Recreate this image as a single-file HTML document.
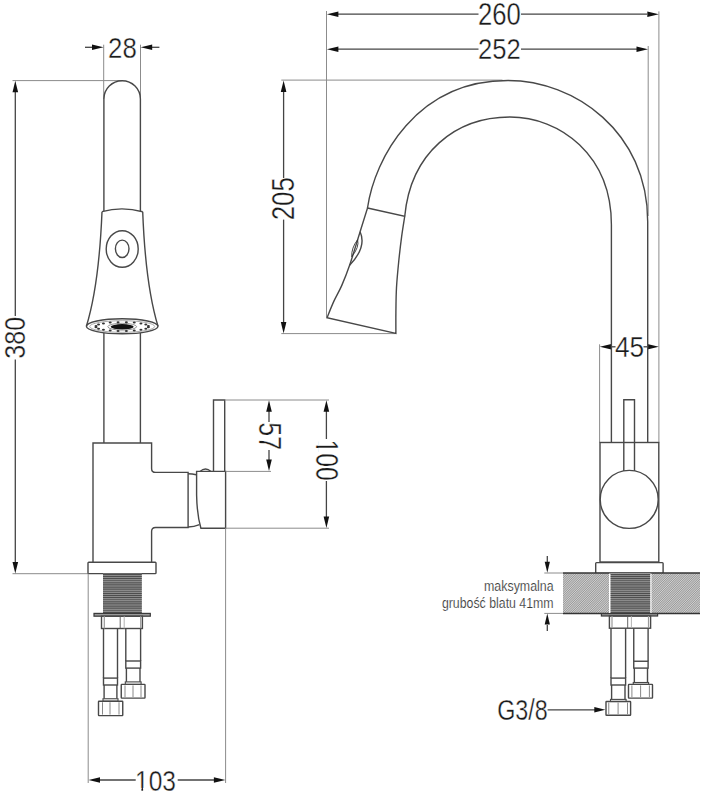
<!DOCTYPE html>
<html><head><meta charset="utf-8"><style>html,body{margin:0;padding:0;background:#fff;}svg{display:block;}</style></head>
<body><svg width="704" height="800" viewBox="0 0 704 800">
<rect width="704" height="800" fill="#fff"/>
<line x1="103.70" y1="44.70" x2="103.70" y2="99.00" stroke="#8c8c8c" stroke-width="1" fill="none"/>
<line x1="140.50" y1="44.70" x2="140.50" y2="99.00" stroke="#8c8c8c" stroke-width="1" fill="none"/>
<line x1="85.00" y1="47.30" x2="95.00" y2="47.30" stroke="#444" stroke-width="1.3" fill="none"/>
<polygon points="103.50,47.30 92.00,50.10 92.00,44.50" fill="#111"/>
<line x1="159.40" y1="47.30" x2="150.00" y2="47.30" stroke="#444" stroke-width="1.3" fill="none"/>
<polygon points="140.70,47.30 152.20,44.50 152.20,50.10" fill="#111"/>
<text x="108.05" y="57.50" font-size="29.20" font-family="Liberation Sans, sans-serif" fill="#1a1a1a" stroke="#fff" stroke-width="0.35" textLength="28.70" lengthAdjust="spacingAndGlyphs">28</text>
<line x1="12.50" y1="80.60" x2="122.00" y2="80.60" stroke="#8c8c8c" stroke-width="1" fill="none"/>
<line x1="12.50" y1="573.70" x2="88.00" y2="573.70" stroke="#8c8c8c" stroke-width="1" fill="none"/>
<line x1="15.30" y1="90.00" x2="15.30" y2="316.00" stroke="#444" stroke-width="1.3" fill="none"/>
<line x1="15.30" y1="359.40" x2="15.30" y2="565.00" stroke="#444" stroke-width="1.3" fill="none"/>
<polygon points="15.30,80.80 18.10,92.30 12.50,92.30" fill="#111"/>
<polygon points="15.30,573.50 12.50,562.00 18.10,562.00" fill="#111"/>
<g transform="translate(14.70,337.80) rotate(-90)"><text x="-20.90" y="10.30" font-size="30.07" font-family="Liberation Sans, sans-serif" fill="#1a1a1a" stroke="#fff" stroke-width="0.35" textLength="41.81" lengthAdjust="spacingAndGlyphs">380</text></g>
<path d="M103.9,211 L103.9,99 A18.25,18.25 0 0 1 140.4,99 L140.4,211" stroke="#484848" stroke-width="1.4" fill="none"/>
<line x1="103.90" y1="333.00" x2="103.90" y2="443.00" stroke="#484848" stroke-width="1.4" fill="none"/>
<line x1="140.40" y1="333.00" x2="140.40" y2="443.00" stroke="#484848" stroke-width="1.4" fill="none"/>
<path d="M102,211.7 Q121.5,206 142.7,211.7" stroke="#484848" stroke-width="1.4" fill="none"/>
<path d="M102,211.7 Q99,285 86.4,326.3" stroke="#484848" stroke-width="1.4" fill="none"/>
<path d="M142.7,211.7 Q145.5,285 158,326.3" stroke="#484848" stroke-width="1.4" fill="none"/>
<ellipse cx="122.2" cy="326.3" rx="35.8" ry="7.5" stroke="#484848" stroke-width="1.4" fill="none"/>
<ellipse cx="122.2" cy="249" rx="16" ry="18.3" stroke="#484848" stroke-width="1.4" fill="none"/>
<ellipse cx="122.2" cy="248.8" rx="6.8" ry="8.7" stroke="#484848" stroke-width="1.4" fill="none"/>
<ellipse cx="122.2" cy="326.8" rx="11.5" ry="2.7" fill="#111"/>
<ellipse cx="122.2" cy="326.7" rx="14.4" ry="3.4" stroke="#777" stroke-width="0.8" fill="none"/>
<ellipse cx="122.2" cy="326.5" rx="32.5" ry="5.8" stroke="#888" stroke-width="0.7" fill="none"/>
<ellipse cx="148.37" cy="327.30" rx="1.5" ry="1.0" fill="#333"/>
<ellipse cx="145.81" cy="328.64" rx="1.5" ry="1.0" fill="#333"/>
<ellipse cx="140.94" cy="329.78" rx="1.5" ry="1.0" fill="#333"/>
<ellipse cx="134.23" cy="330.61" rx="1.5" ry="1.0" fill="#333"/>
<ellipse cx="126.35" cy="331.04" rx="1.5" ry="1.0" fill="#333"/>
<ellipse cx="118.05" cy="331.04" rx="1.5" ry="1.0" fill="#333"/>
<ellipse cx="110.17" cy="330.61" rx="1.5" ry="1.0" fill="#333"/>
<ellipse cx="103.46" cy="329.78" rx="1.5" ry="1.0" fill="#333"/>
<ellipse cx="98.59" cy="328.64" rx="1.5" ry="1.0" fill="#333"/>
<ellipse cx="96.03" cy="327.30" rx="1.5" ry="1.0" fill="#333"/>
<ellipse cx="96.03" cy="325.90" rx="1.5" ry="1.0" fill="#333"/>
<ellipse cx="98.59" cy="324.56" rx="1.5" ry="1.0" fill="#333"/>
<ellipse cx="103.46" cy="323.42" rx="1.5" ry="1.0" fill="#333"/>
<ellipse cx="110.17" cy="322.59" rx="1.5" ry="1.0" fill="#333"/>
<ellipse cx="118.05" cy="322.16" rx="1.5" ry="1.0" fill="#333"/>
<ellipse cx="126.35" cy="322.16" rx="1.5" ry="1.0" fill="#333"/>
<ellipse cx="134.23" cy="322.59" rx="1.5" ry="1.0" fill="#333"/>
<ellipse cx="140.94" cy="323.42" rx="1.5" ry="1.0" fill="#333"/>
<ellipse cx="145.81" cy="324.56" rx="1.5" ry="1.0" fill="#333"/>
<ellipse cx="148.37" cy="325.90" rx="1.5" ry="1.0" fill="#333"/>
<path d="M93,562.3 L93,443 L151.6,443 L151.6,468.4 Q151.6,472.4 155.6,472.4 L188.1,472.4 L188.1,527.5 L155.6,527.5 Q151.6,527.5 151.6,531.5 L151.6,562.3" stroke="#484848" stroke-width="1.4" fill="none"/>
<path d="M188.1,473.8 Q192,473.8 196.4,474.7" stroke="#484848" stroke-width="1.4" fill="none"/>
<path d="M188.1,527 Q194,527 199.5,524.6" stroke="#484848" stroke-width="1.4" fill="none"/>
<path d="M196.6,471.4 L225.6,471.4 L225.6,528.2 L200.9,528.2 Q197,515 196.6,495 L196.6,471.4 Z" stroke="#484848" stroke-width="1.4" fill="none"/>
<path d="M200,471.4 Q205.5,466.5 211,471.4" stroke="#484848" stroke-width="1.4" fill="none"/>
<path d="M213.5,471.4 L213.5,400 L224.7,400 L224.7,471.4" stroke="#484848" stroke-width="1.4" fill="none"/>
<line x1="224.70" y1="400.00" x2="329.00" y2="400.00" stroke="#8c8c8c" stroke-width="1" fill="none"/>
<line x1="225.60" y1="471.40" x2="271.00" y2="471.40" stroke="#8c8c8c" stroke-width="1" fill="none"/>
<line x1="225.60" y1="528.20" x2="329.00" y2="528.20" stroke="#8c8c8c" stroke-width="1" fill="none"/>
<line x1="225.60" y1="528.20" x2="225.60" y2="783.00" stroke="#8c8c8c" stroke-width="1" fill="none"/>
<line x1="269.00" y1="411.00" x2="269.00" y2="422.00" stroke="#444" stroke-width="1.3" fill="none"/>
<line x1="269.00" y1="450.00" x2="269.00" y2="460.00" stroke="#444" stroke-width="1.3" fill="none"/>
<polygon points="269.00,400.30 271.80,411.80 266.20,411.80" fill="#111"/>
<polygon points="269.00,471.10 266.20,459.60 271.80,459.60" fill="#111"/>
<g transform="translate(269.00,436.20) rotate(90)"><text x="-13.84" y="10.50" font-size="30.66" font-family="Liberation Sans, sans-serif" fill="#1a1a1a" stroke="#fff" stroke-width="0.35" textLength="27.68" lengthAdjust="spacingAndGlyphs">57</text></g>
<line x1="326.40" y1="411.00" x2="326.40" y2="439.00" stroke="#444" stroke-width="1.3" fill="none"/>
<line x1="326.40" y1="481.00" x2="326.40" y2="517.00" stroke="#444" stroke-width="1.3" fill="none"/>
<polygon points="326.40,400.30 329.20,411.80 323.60,411.80" fill="#111"/>
<polygon points="326.40,528.00 323.60,516.50 329.20,516.50" fill="#111"/>
<g transform="translate(326.80,460.10) rotate(90)"><text x="-20.63" y="10.75" font-size="31.39" font-family="Liberation Sans, sans-serif" fill="#1a1a1a" stroke="#fff" stroke-width="0.35" textLength="41.27" lengthAdjust="spacingAndGlyphs">100</text></g>
<rect x="314.4" y="440" width="4.4" height="5.7" fill="#fff"/><rect x="314.4" y="448" width="4.4" height="4.5" fill="#fff"/>
<rect x="88" y="562.3" width="68" height="11.3" rx="0.8" stroke="#484848" stroke-width="1.4" fill="none"/>
<line x1="88.20" y1="573.70" x2="88.20" y2="783.00" stroke="#8c8c8c" stroke-width="1" fill="none"/>
<rect x="103" y="573.6" width="38.8" height="39.8" fill="#a0a0a0"/>
<line x1="103.00" y1="574.60" x2="141.80" y2="574.60" stroke="#4e4e4e" stroke-width="1.1"/>
<line x1="103.00" y1="576.50" x2="141.80" y2="576.50" stroke="#4e4e4e" stroke-width="1.1"/>
<line x1="103.00" y1="578.40" x2="141.80" y2="578.40" stroke="#4e4e4e" stroke-width="1.1"/>
<line x1="103.00" y1="580.30" x2="141.80" y2="580.30" stroke="#4e4e4e" stroke-width="1.1"/>
<line x1="103.00" y1="582.20" x2="141.80" y2="582.20" stroke="#4e4e4e" stroke-width="1.1"/>
<line x1="103.00" y1="584.10" x2="141.80" y2="584.10" stroke="#4e4e4e" stroke-width="1.1"/>
<line x1="103.00" y1="586.00" x2="141.80" y2="586.00" stroke="#4e4e4e" stroke-width="1.1"/>
<line x1="103.00" y1="587.90" x2="141.80" y2="587.90" stroke="#4e4e4e" stroke-width="1.1"/>
<line x1="103.00" y1="589.80" x2="141.80" y2="589.80" stroke="#4e4e4e" stroke-width="1.1"/>
<line x1="103.00" y1="591.70" x2="141.80" y2="591.70" stroke="#4e4e4e" stroke-width="1.1"/>
<line x1="103.00" y1="593.60" x2="141.80" y2="593.60" stroke="#4e4e4e" stroke-width="1.1"/>
<line x1="103.00" y1="595.50" x2="141.80" y2="595.50" stroke="#4e4e4e" stroke-width="1.1"/>
<line x1="103.00" y1="597.40" x2="141.80" y2="597.40" stroke="#4e4e4e" stroke-width="1.1"/>
<line x1="103.00" y1="599.30" x2="141.80" y2="599.30" stroke="#4e4e4e" stroke-width="1.1"/>
<line x1="103.00" y1="601.20" x2="141.80" y2="601.20" stroke="#4e4e4e" stroke-width="1.1"/>
<line x1="103.00" y1="603.10" x2="141.80" y2="603.10" stroke="#4e4e4e" stroke-width="1.1"/>
<line x1="103.00" y1="605.00" x2="141.80" y2="605.00" stroke="#4e4e4e" stroke-width="1.1"/>
<line x1="103.00" y1="606.90" x2="141.80" y2="606.90" stroke="#4e4e4e" stroke-width="1.1"/>
<line x1="103.00" y1="608.80" x2="141.80" y2="608.80" stroke="#4e4e4e" stroke-width="1.1"/>
<line x1="103.00" y1="610.70" x2="141.80" y2="610.70" stroke="#4e4e4e" stroke-width="1.1"/>
<line x1="103.00" y1="612.60" x2="141.80" y2="612.60" stroke="#4e4e4e" stroke-width="1.1"/>
<rect x="94" y="613.4" width="56.3" height="2.8" fill="#999" stroke="#3a3a3a" stroke-width="1.2"/>
<rect x="101.5" y="616.2" width="40.9" height="12.3" stroke="#484848" stroke-width="1.4" fill="none"/>
<line x1="104.30" y1="616.20" x2="104.30" y2="628.50" stroke="#999" stroke-width="1.2"/>
<line x1="120.20" y1="616.20" x2="120.20" y2="628.50" stroke="#555" stroke-width="0.9"/>
<line x1="124.20" y1="616.20" x2="124.20" y2="628.50" stroke="#aaa" stroke-width="0.9"/>
<line x1="140.70" y1="616.20" x2="140.70" y2="628.50" stroke="#999" stroke-width="1.2"/>
<line x1="103.50" y1="628.50" x2="103.50" y2="678.10" stroke="#484848" stroke-width="1.4" fill="none"/>
<line x1="117.50" y1="628.50" x2="117.50" y2="678.10" stroke="#484848" stroke-width="1.4" fill="none"/>
<rect x="103.50" y="678.10" width="14.00" height="6.90" stroke="#484848" stroke-width="1.4" fill="none"/>
<line x1="104.10" y1="685.00" x2="104.10" y2="698.75" stroke="#484848" stroke-width="1.4" fill="none"/>
<line x1="116.90" y1="685.00" x2="116.90" y2="698.75" stroke="#484848" stroke-width="1.4" fill="none"/>
<rect x="103.00" y="698.75" width="15.00" height="2.50" stroke="#484848" stroke-width="1.1" fill="#fff"/>
<rect x="98.50" y="701.25" width="24.25" height="14.35" rx="0.5" stroke="#484848" stroke-width="1.4" fill="none"/>
<line x1="102.50" y1="702.25" x2="102.50" y2="714.60" stroke="#7a7a7a" stroke-width="0.9"/>
<line x1="110.00" y1="702.25" x2="110.00" y2="714.60" stroke="#7a7a7a" stroke-width="0.9"/>
<line x1="119.00" y1="702.25" x2="119.00" y2="714.60" stroke="#7a7a7a" stroke-width="0.9"/>
<line x1="125.80" y1="628.50" x2="125.80" y2="661.00" stroke="#484848" stroke-width="1.4" fill="none"/>
<line x1="140.60" y1="628.50" x2="140.60" y2="661.00" stroke="#484848" stroke-width="1.4" fill="none"/>
<rect x="125.80" y="661.00" width="14.80" height="7.10" stroke="#484848" stroke-width="1.4" fill="none"/>
<line x1="126.40" y1="668.10" x2="126.40" y2="681.90" stroke="#484848" stroke-width="1.4" fill="none"/>
<line x1="140.00" y1="668.10" x2="140.00" y2="681.90" stroke="#484848" stroke-width="1.4" fill="none"/>
<rect x="125.30" y="681.90" width="15.80" height="2.50" stroke="#484848" stroke-width="1.1" fill="#fff"/>
<rect x="121.25" y="684.40" width="23.75" height="13.70" rx="0.5" stroke="#484848" stroke-width="1.4" fill="none"/>
<line x1="125.00" y1="685.40" x2="125.00" y2="697.10" stroke="#7a7a7a" stroke-width="0.9"/>
<line x1="133.00" y1="685.40" x2="133.00" y2="697.10" stroke="#7a7a7a" stroke-width="0.9"/>
<line x1="141.00" y1="685.40" x2="141.00" y2="697.10" stroke="#7a7a7a" stroke-width="0.9"/>
<line x1="100.00" y1="780.00" x2="135.70" y2="780.00" stroke="#444" stroke-width="1.3" fill="none"/>
<polygon points="88.50,780.00 100.00,777.20 100.00,782.80" fill="#111"/>
<line x1="177.70" y1="780.00" x2="214.00" y2="780.00" stroke="#444" stroke-width="1.3" fill="none"/>
<polygon points="225.40,780.00 213.90,782.80 213.90,777.20" fill="#111"/>
<text x="135.08" y="790.50" font-size="28.61" font-family="Liberation Sans, sans-serif" fill="#1a1a1a" stroke="#fff" stroke-width="0.35" textLength="40.93" lengthAdjust="spacingAndGlyphs">103</text>
<rect x="136" y="787.9" width="5.4" height="3.4" fill="#fff"/><rect x="143.1" y="787.9" width="5" height="3.4" fill="#fff"/>
<line x1="326.50" y1="11.00" x2="326.50" y2="317.50" stroke="#8c8c8c" stroke-width="1" fill="none"/>
<line x1="658.90" y1="11.40" x2="658.90" y2="442.50" stroke="#8c8c8c" stroke-width="1" fill="none"/>
<line x1="648.20" y1="46.00" x2="648.20" y2="216.00" stroke="#8c8c8c" stroke-width="1" fill="none"/>
<line x1="338.00" y1="14.20" x2="478.50" y2="14.20" stroke="#444" stroke-width="1.3" fill="none"/>
<line x1="521.00" y1="14.20" x2="647.00" y2="14.20" stroke="#444" stroke-width="1.3" fill="none"/>
<polygon points="326.90,14.20 338.40,11.40 338.40,17.00" fill="#111"/>
<polygon points="658.80,14.20 647.30,17.00 647.30,11.40" fill="#111"/>
<text x="478.03" y="24.90" font-size="31.09" font-family="Liberation Sans, sans-serif" fill="#1a1a1a" stroke="#fff" stroke-width="0.35" textLength="42.83" lengthAdjust="spacingAndGlyphs">260</text>
<line x1="338.00" y1="49.20" x2="478.50" y2="49.20" stroke="#444" stroke-width="1.3" fill="none"/>
<line x1="521.00" y1="49.20" x2="637.00" y2="49.20" stroke="#444" stroke-width="1.3" fill="none"/>
<polygon points="326.90,49.20 338.40,46.40 338.40,52.00" fill="#111"/>
<polygon points="648.00,49.20 636.50,52.00 636.50,46.40" fill="#111"/>
<text x="478.11" y="59.40" font-size="29.78" font-family="Liberation Sans, sans-serif" fill="#1a1a1a" stroke="#fff" stroke-width="0.35" textLength="42.67" lengthAdjust="spacingAndGlyphs">252</text>
<line x1="281.30" y1="80.10" x2="502.50" y2="80.10" stroke="#8c8c8c" stroke-width="1" fill="none"/>
<line x1="281.30" y1="333.60" x2="396.00" y2="333.60" stroke="#8c8c8c" stroke-width="1" fill="none"/>
<line x1="283.60" y1="91.00" x2="283.60" y2="178.00" stroke="#444" stroke-width="1.3" fill="none"/>
<line x1="283.60" y1="219.60" x2="283.60" y2="322.00" stroke="#444" stroke-width="1.3" fill="none"/>
<polygon points="283.60,80.40 286.40,91.90 280.80,91.90" fill="#111"/>
<polygon points="283.60,333.40 280.80,321.90 286.40,321.90" fill="#111"/>
<g transform="translate(283.40,198.80) rotate(-90)"><text x="-21.57" y="10.65" font-size="31.09" font-family="Liberation Sans, sans-serif" fill="#1a1a1a" stroke="#fff" stroke-width="0.35" textLength="43.13" lengthAdjust="spacingAndGlyphs">205</text></g>
<line x1="599.60" y1="344.30" x2="599.60" y2="442.50" stroke="#8c8c8c" stroke-width="1" fill="none"/>
<line x1="609.00" y1="346.80" x2="615.50" y2="346.80" stroke="#444" stroke-width="1.3" fill="none"/>
<line x1="643.50" y1="346.80" x2="650.00" y2="346.80" stroke="#444" stroke-width="1.3" fill="none"/>
<polygon points="599.80,346.80 611.30,344.00 611.30,349.60" fill="#111"/>
<polygon points="658.80,346.80 647.30,349.60 647.30,344.00" fill="#111"/>
<text x="614.99" y="357.30" font-size="30.22" font-family="Liberation Sans, sans-serif" fill="#1a1a1a" stroke="#fff" stroke-width="0.35" textLength="29.23" lengthAdjust="spacingAndGlyphs">45</text>
<path d="M367.50,208.00 C374.57,158.42 416.27,80.54 507.89,80.54 C574.57,80.54 647.70,131.74 647.70,221.54 L647.7,442.5" stroke="#484848" stroke-width="1.4" fill="none"/>
<path d="M404.75,216.25 C410.76,152.83 455.45,117.04 509.98,117.04 C560.08,117.04 611.40,155.09 611.40,224.86 L611.4,442.5" stroke="#484848" stroke-width="1.4" fill="none"/>
<path d="M367.5,208 L404.75,216.25  C404.23,219.69 402.60,229.40 401.60,236.90 C400.60,244.40 399.60,252.82 398.75,261.25 C397.90,269.68 396.98,279.06 396.50,287.50 C396.02,295.94 396.00,304.25 395.90,311.90 C395.80,319.55 395.90,329.82 395.90,333.40 L327,317.8  C328.13,315.07 331.35,306.77 333.80,301.40 C336.25,296.03 339.07,291.62 341.70,285.60 C344.33,279.58 346.53,274.27 349.60,265.30 C352.67,256.33 357.12,241.35 360.10,231.80 C363.08,222.25 366.27,211.97 367.50,208.00 Z" stroke="#484848" stroke-width="1.4" fill="none"/>
<path d="M360.1,231.8 Q367,247 349.6,265.3" stroke="#484848" stroke-width="1.4" fill="none"/>
<path d="M357.6,239.7 Q359.6,247 351.7,256.7 Q351.3,248 357.6,239.7 Z" stroke="#333" stroke-width="0.9" fill="none"/>
<rect x="600" y="442.5" width="58.8" height="119.5" stroke="#484848" stroke-width="1.4" fill="none"/>
<path d="M623.8,471 L623.8,399.7 L634.5,399.7 L634.5,471" stroke="#484848" stroke-width="1.4" fill="none"/>
<circle cx="629.2" cy="499.4" r="29" fill="#fff" stroke="#484848" stroke-width="1.4" fill="none"/>
<rect x="595.7" y="562.6" width="67.4" height="10.8" rx="0.8" stroke="#484848" stroke-width="1.4" fill="none"/>
<defs><pattern id="hatch" patternUnits="userSpaceOnUse" width="1.6" height="1.6" patternTransform="rotate(45)"><rect width="1.6" height="1.6" fill="#d2d2d2"/><line x1="0" y1="0" x2="0" y2="1.6" stroke="#5a5a5a" stroke-width="0.8"/></pattern></defs>
<rect x="563" y="573" width="137" height="40.5" fill="url(#hatch)"/>
<line x1="563.00" y1="573.00" x2="700.00" y2="573.00" stroke="#333" stroke-width="1.6"/>
<line x1="563.00" y1="613.50" x2="700.00" y2="613.50" stroke="#333" stroke-width="1.5"/>
<rect x="609" y="573.6" width="42.5" height="39.4" fill="#fff"/>
<rect x="610.6" y="573.6" width="39.6" height="39.4" fill="#a0a0a0"/>
<line x1="610.60" y1="574.60" x2="650.20" y2="574.60" stroke="#4e4e4e" stroke-width="1.1"/>
<line x1="610.60" y1="576.50" x2="650.20" y2="576.50" stroke="#4e4e4e" stroke-width="1.1"/>
<line x1="610.60" y1="578.40" x2="650.20" y2="578.40" stroke="#4e4e4e" stroke-width="1.1"/>
<line x1="610.60" y1="580.30" x2="650.20" y2="580.30" stroke="#4e4e4e" stroke-width="1.1"/>
<line x1="610.60" y1="582.20" x2="650.20" y2="582.20" stroke="#4e4e4e" stroke-width="1.1"/>
<line x1="610.60" y1="584.10" x2="650.20" y2="584.10" stroke="#4e4e4e" stroke-width="1.1"/>
<line x1="610.60" y1="586.00" x2="650.20" y2="586.00" stroke="#4e4e4e" stroke-width="1.1"/>
<line x1="610.60" y1="587.90" x2="650.20" y2="587.90" stroke="#4e4e4e" stroke-width="1.1"/>
<line x1="610.60" y1="589.80" x2="650.20" y2="589.80" stroke="#4e4e4e" stroke-width="1.1"/>
<line x1="610.60" y1="591.70" x2="650.20" y2="591.70" stroke="#4e4e4e" stroke-width="1.1"/>
<line x1="610.60" y1="593.60" x2="650.20" y2="593.60" stroke="#4e4e4e" stroke-width="1.1"/>
<line x1="610.60" y1="595.50" x2="650.20" y2="595.50" stroke="#4e4e4e" stroke-width="1.1"/>
<line x1="610.60" y1="597.40" x2="650.20" y2="597.40" stroke="#4e4e4e" stroke-width="1.1"/>
<line x1="610.60" y1="599.30" x2="650.20" y2="599.30" stroke="#4e4e4e" stroke-width="1.1"/>
<line x1="610.60" y1="601.20" x2="650.20" y2="601.20" stroke="#4e4e4e" stroke-width="1.1"/>
<line x1="610.60" y1="603.10" x2="650.20" y2="603.10" stroke="#4e4e4e" stroke-width="1.1"/>
<line x1="610.60" y1="605.00" x2="650.20" y2="605.00" stroke="#4e4e4e" stroke-width="1.1"/>
<line x1="610.60" y1="606.90" x2="650.20" y2="606.90" stroke="#4e4e4e" stroke-width="1.1"/>
<line x1="610.60" y1="608.80" x2="650.20" y2="608.80" stroke="#4e4e4e" stroke-width="1.1"/>
<line x1="610.60" y1="610.70" x2="650.20" y2="610.70" stroke="#4e4e4e" stroke-width="1.1"/>
<line x1="610.60" y1="612.60" x2="650.20" y2="612.60" stroke="#4e4e4e" stroke-width="1.1"/>
<rect x="601.4" y="613.6" width="56.2" height="2.4" fill="#999" stroke="#3a3a3a" stroke-width="1.2"/>
<rect x="609.4" y="616" width="41.2" height="12.2" stroke="#484848" stroke-width="1.4" fill="none"/>
<line x1="612.00" y1="616.00" x2="612.00" y2="628.00" stroke="#999" stroke-width="1.2"/>
<line x1="627.70" y1="616.00" x2="627.70" y2="628.00" stroke="#555" stroke-width="0.9"/>
<line x1="631.40" y1="616.00" x2="631.40" y2="628.00" stroke="#aaa" stroke-width="0.9"/>
<line x1="648.50" y1="616.00" x2="648.50" y2="628.00" stroke="#999" stroke-width="1.2"/>
<line x1="611.00" y1="628.20" x2="611.00" y2="678.10" stroke="#484848" stroke-width="1.4" fill="none"/>
<line x1="625.60" y1="628.20" x2="625.60" y2="678.10" stroke="#484848" stroke-width="1.4" fill="none"/>
<rect x="611.00" y="678.10" width="14.60" height="6.90" stroke="#484848" stroke-width="1.4" fill="none"/>
<line x1="611.60" y1="685.00" x2="611.60" y2="699.40" stroke="#484848" stroke-width="1.4" fill="none"/>
<line x1="625.00" y1="685.00" x2="625.00" y2="699.40" stroke="#484848" stroke-width="1.4" fill="none"/>
<rect x="610.50" y="699.40" width="15.60" height="2.10" stroke="#484848" stroke-width="1.1" fill="#fff"/>
<rect x="606.00" y="701.50" width="24.60" height="13.75" rx="0.5" stroke="#484848" stroke-width="1.4" fill="none"/>
<line x1="608.75" y1="702.50" x2="608.75" y2="714.25" stroke="#7a7a7a" stroke-width="0.9"/>
<line x1="618.10" y1="702.50" x2="618.10" y2="714.25" stroke="#7a7a7a" stroke-width="0.9"/>
<line x1="627.50" y1="702.50" x2="627.50" y2="714.25" stroke="#7a7a7a" stroke-width="0.9"/>
<line x1="633.75" y1="628.20" x2="633.75" y2="661.25" stroke="#484848" stroke-width="1.4" fill="none"/>
<line x1="648.10" y1="628.20" x2="648.10" y2="661.25" stroke="#484848" stroke-width="1.4" fill="none"/>
<rect x="633.75" y="661.25" width="14.35" height="6.85" stroke="#484848" stroke-width="1.4" fill="none"/>
<line x1="634.35" y1="668.10" x2="634.35" y2="682.50" stroke="#484848" stroke-width="1.4" fill="none"/>
<line x1="647.50" y1="668.10" x2="647.50" y2="682.50" stroke="#484848" stroke-width="1.4" fill="none"/>
<rect x="633.25" y="682.50" width="15.35" height="1.90" stroke="#484848" stroke-width="1.1" fill="#fff"/>
<rect x="628.50" y="684.40" width="24.00" height="13.70" rx="0.5" stroke="#484848" stroke-width="1.4" fill="none"/>
<line x1="631.90" y1="685.40" x2="631.90" y2="697.10" stroke="#7a7a7a" stroke-width="0.9"/>
<line x1="640.60" y1="685.40" x2="640.60" y2="697.10" stroke="#7a7a7a" stroke-width="0.9"/>
<line x1="649.40" y1="685.40" x2="649.40" y2="697.10" stroke="#7a7a7a" stroke-width="0.9"/>
<line x1="544.30" y1="573.00" x2="563.00" y2="573.00" stroke="#8c8c8c" stroke-width="1" fill="none"/>
<line x1="544.30" y1="613.40" x2="563.00" y2="613.40" stroke="#8c8c8c" stroke-width="1" fill="none"/>
<line x1="547.30" y1="556.00" x2="547.30" y2="562.00" stroke="#444" stroke-width="1.3" fill="none"/>
<polygon points="547.30,572.70 544.70,561.70 549.90,561.70" fill="#111"/>
<line x1="547.30" y1="625.00" x2="547.30" y2="631.00" stroke="#444" stroke-width="1.3" fill="none"/>
<polygon points="547.30,613.60 549.90,624.60 544.70,624.60" fill="#111"/>
<text x="553.6" y="590.8" font-size="15.5" font-family="Liberation Sans, sans-serif" fill="#3a3a3a" stroke="#fff" stroke-width="0.15" text-anchor="end" textLength="69.6" lengthAdjust="spacingAndGlyphs">maksymalna</text>
<text x="553.6" y="607.7" font-size="15.5" font-family="Liberation Sans, sans-serif" fill="#3a3a3a" stroke="#fff" stroke-width="0.15" text-anchor="end" textLength="111.7" lengthAdjust="spacingAndGlyphs">grubość blatu 41mm</text>
<text x="497.16" y="719.80" font-size="29.05" font-family="Liberation Sans, sans-serif" fill="#1a1a1a" stroke="#fff" stroke-width="0.35" textLength="50.59" lengthAdjust="spacingAndGlyphs">G3/8</text>
<line x1="547.60" y1="709.80" x2="595.00" y2="709.80" stroke="#444" stroke-width="1.3" fill="none"/>
<polygon points="605.30,709.80 594.30,712.60 594.30,707.00" fill="#111"/>
</svg></body></html>
